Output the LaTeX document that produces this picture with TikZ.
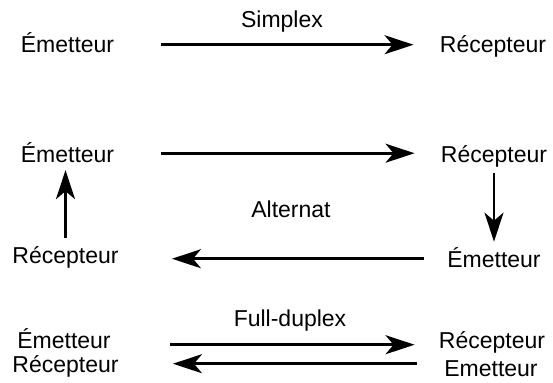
\documentclass[tikz,border=0pt]{standalone}
\usepackage{fontspec}
\setmainfont{Liberation Sans}
\usepackage{tikz}
\usetikzlibrary{arrows.meta, positioning}

\tikzset{
	lbl/.style={anchor=base, inner sep=0pt, font=\fontsize{11.5}{13.8}\selectfont},
	sig/.style={line width=1.4pt, -{Stealth[length=14.5pt, width=9.5pt, inset=4pt]}},
}

\begin{document}
\begin{tikzpicture}[x=0.5pt, y=-0.5pt]
		\useasboundingbox (0,0) rectangle (553,382);
		% Simplex:
		\node[lbl](Mode1) at (282,27){Simplex};
		\node[lbl](Em1) at (67.5,52){Émetteur};
		\node[lbl](Rec1) at (493,52){Récepteur};
		\draw[sig, shorten <=23pt, shorten >=13pt] ([yshift=1pt]Em1.mid east) -- ([yshift=1pt]Em1.mid east -| Rec1.mid west);
		% Alternat:
		\node[lbl](Mode2) at (291,217){Alternat};
		\node[lbl](Em2) at (67.5,162.5){Émetteur};
		\node[lbl](Rec2) at (494,162.5){Récepteur};
		\node[lbl](Rec2b) at (65.5,263){Récepteur};
		\node[lbl](Em2b) at (494,267){Émetteur};
		\draw[sig, shorten <=23pt, shorten >=13pt] ([yshift=2pt]Em2.mid east) -- ([yshift=2pt]Em2.mid east -| Rec2.mid west);
		\draw[sig, shorten <=2.5pt, shorten >=2.5pt] (Rec2.south) -- (Em2b.north);
		\draw[sig, shorten <=11.5pt, shorten >=26.5pt] ([yshift=1.5pt]Em2b.mid west) -- ([yshift=1.5pt]Em2b.mid west -| Rec2b.mid east);
		\draw[sig, shorten <=4pt, shorten >=3.5pt] (Rec2b.north) -- (Rec2b.north |- Em2.south);
		% Full-duplex:
		\node[lbl](Mode3) at (290,326){Full-duplex};
		\node[lbl](Em3) at (64,348){Émetteur};
		\node[lbl](Rec3) at (65.5,372){Récepteur};
		\node[lbl](Rec3b) at (492,348){Récepteur};
		\node[lbl](Em3b) at (491,376){Emetteur};
		\draw[sig, shorten <=29.5pt, shorten >=12pt] ([yshift=-1pt]Em3.mid east) -- ([yshift=-1pt]Em3.mid east -| Rec3b.mid west);
		\draw[sig, shorten <=13.5pt, shorten >=27pt] ([yshift=3.5pt]Em3b.mid west) -- ([yshift=3.5pt]Em3b.mid west -| Rec3.mid east);
	\end{tikzpicture}
\end{document}
